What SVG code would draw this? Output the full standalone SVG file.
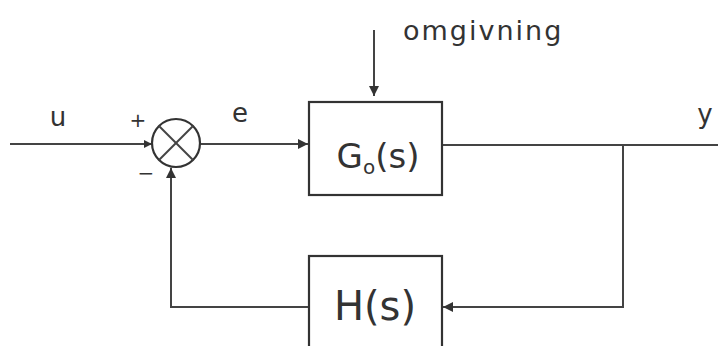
<svg xmlns="http://www.w3.org/2000/svg" width="718" height="346" viewBox="0 0 718 346">
<defs>
<marker id="ah" viewBox="0 0 10 10" refX="10" refY="5" markerWidth="10" markerHeight="8" markerUnits="userSpaceOnUse" orient="auto"><path d="M0,0 L10,5 L0,10 z" fill="#333"/></marker>
<marker id="ahL" viewBox="0 0 10 10" refX="10" refY="5" markerWidth="16" markerHeight="10" markerUnits="userSpaceOnUse" orient="auto"><path d="M0,0 L10,5 L0,10 z" fill="#333"/></marker>
</defs>
<style>
.ln{fill:none;stroke:#444;stroke-width:2}
.bx{fill:#fff;stroke:#333;stroke-width:2.2}
.t{font-family:"DejaVu Sans",sans-serif;fill:#333}
</style>
<rect width="718" height="346" fill="#fff"/>
<g id="connectors">
<line class="ln" x1="10" y1="144" x2="152" y2="144" marker-end="url(#ah)"/>
<line class="ln" x1="200" y1="144" x2="308" y2="144" marker-end="url(#ahL)"/>
<line class="ln" x1="374" y1="30" x2="374" y2="96" marker-end="url(#ahL)"/>
<polyline class="ln" points="442,145 718,145"/>
<polyline class="ln" points="623,145 623,307 443,307" marker-end="url(#ahL)"/>
<polyline class="ln" points="309,307 171,307 171,168" marker-end="url(#ahL)"/>
</g>
<g id="sum">
<circle cx="176" cy="143" r="24" fill="#fff" stroke="#333" stroke-width="2.2"/>
<line class="ln" x1="159" y1="126" x2="193" y2="160"/>
<line class="ln" x1="193" y1="126" x2="159" y2="160"/>
<text class="t" x="138" y="127" font-size="20" text-anchor="middle">+</text>
<text class="t" x="146" y="180" font-size="20" text-anchor="middle">−</text>
</g>
<g id="G0">
<rect class="bx" x="309" y="102" width="133" height="93"/>
<text class="t" x="378" y="168" font-size="34" text-anchor="middle">G<tspan font-size="20" dy="6">o</tspan><tspan dy="-6">(s)</tspan></text>
</g>
<g id="H">
<rect class="bx" x="309" y="256" width="133" height="110"/>
<text class="t" x="375" y="320" font-size="40" text-anchor="middle">H(s)</text>
</g>
<g id="labels">
<text class="t" x="58" y="126" font-size="26" text-anchor="middle">u</text>
<text class="t" x="240" y="122" font-size="26" text-anchor="middle">e</text>
<text class="t" x="705" y="123" font-size="26" text-anchor="middle">y</text>
<text class="t" x="403" y="40" font-size="27" letter-spacing="2">omgivning</text>
</g>
</svg>
